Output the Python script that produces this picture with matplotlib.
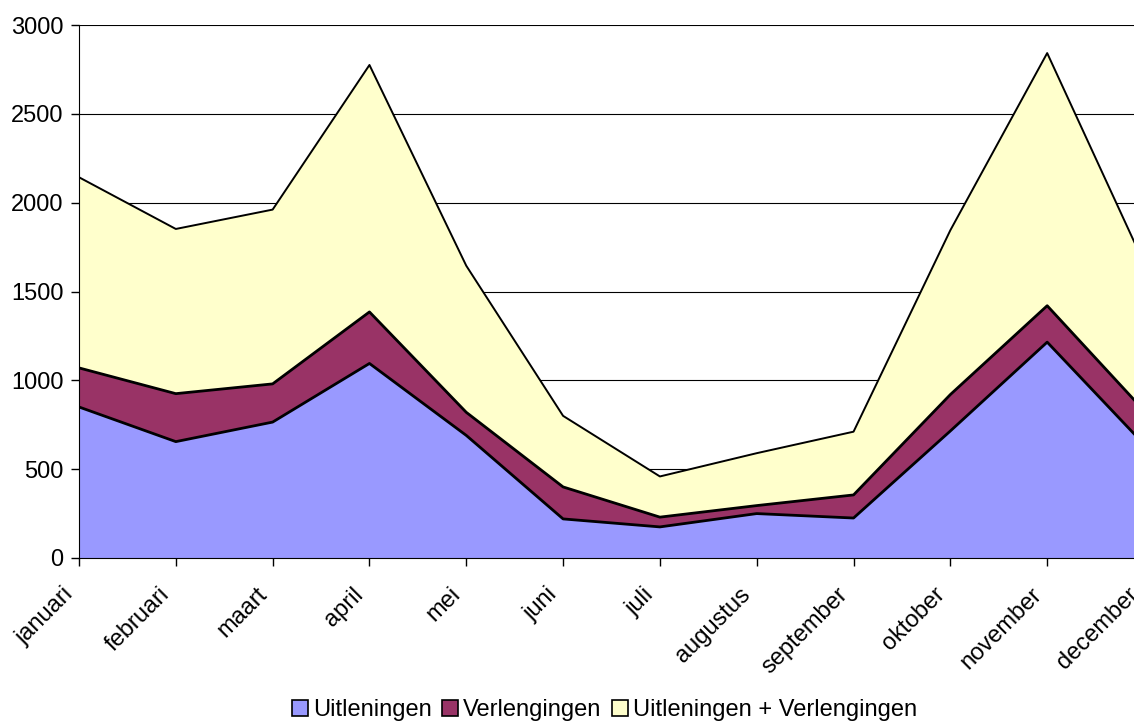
import matplotlib.pyplot as plt
from matplotlib.transforms import ScaledTranslation

OUTPUT_PATH = "out.png"

MONTHS = [
    "januari", "februari", "maart", "april", "mei", "juni",
    "juli", "augustus", "september", "oktober", "november", "december",
]
UITLENINGEN = [850, 655, 765, 1095, 690, 220, 175, 250, 225, 715, 1215, 640]
VERLENGINGEN = [220, 270, 215, 290, 130, 180, 55, 45, 130, 205, 205, 190]
TOTAAL = [1073, 927, 981, 1390, 825, 400, 229, 295, 356, 925, 1422, 830]

LABELS = ["Uitleningen", "Verlengingen", "Uitleningen + Verlengingen"]
COLORS = ["#9999FF", "#993366", "#FFFFCC"]


def plot(output):
    plt.rcParams["font.family"] = ["Liberation Sans", "DejaVu Sans"]
    fig = plt.figure(figsize=(11.34, 7.24), dpi=100)
    # the right edge of the original picture cuts through december
    ax = fig.add_axes([79 / 1134, 1 - 558 / 724, 1065 / 1134, 533 / 724])

    x = list(range(len(MONTHS)))
    layers = [UITLENINGEN, VERLENGINGEN, TOTAAL]
    base = [0] * len(x)
    tops = []
    for values, color, label in zip(layers, COLORS, LABELS):
        top = [b + v for b, v in zip(base, values)]
        ax.fill_between(x, base, top, facecolor=color, edgecolor="none",
                        label=label, zorder=2)
        tops.append(top)
        base = top
    for top, lw in zip(tops, [2.0, 2.0, 1.4]):
        ax.plot(x, top, color="black", linewidth=lw, zorder=3)

    ax.set_xlim(0, len(MONTHS) - 1)
    ax.set_ylim(0, 3000)
    ax.set_yticks(range(0, 3001, 500))
    ax.set_xticks(x)
    ax.set_xticklabels(MONTHS, rotation=45, ha="right", rotation_mode="anchor")
    ax.tick_params(axis="both", direction="out", length=6, width=1,
                   colors="black", labelsize=17)
    ax.tick_params(axis="x", pad=8)
    ax.tick_params(axis="y", pad=5)
    # nudge month labels so they end just left of their tick, like Excel does
    shift = ScaledTranslation(-17 / 100, -6 / 100, fig.dpi_scale_trans)
    for lab in ax.get_xticklabels():
        lab.set_transform(lab.get_transform() + shift)

    ax.grid(True, axis="y", color="black", linewidth=0.8, zorder=1)
    ax.set_axisbelow(True)
    for side in ["top", "right"]:
        ax.spines[side].set_visible(False)
    ax.spines["left"].set_zorder(4)
    ax.spines["bottom"].set_zorder(4)

    handles = [plt.Rectangle((0, 0), 1, 1, facecolor=c, edgecolor="black",
                             linewidth=1.2) for c in COLORS]
    fig.legend(handles, LABELS, loc="center", bbox_to_anchor=(0.533, 1 - 710 / 724),
               ncol=3, frameon=False, fontsize=17, handlelength=0.68,
               handleheight=0.68, handletextpad=0.2, columnspacing=0.45)

    fig.savefig(output, dpi=100)
    print(f"Wrote {output}")


if __name__ == "__main__":
    plot(OUTPUT_PATH)
